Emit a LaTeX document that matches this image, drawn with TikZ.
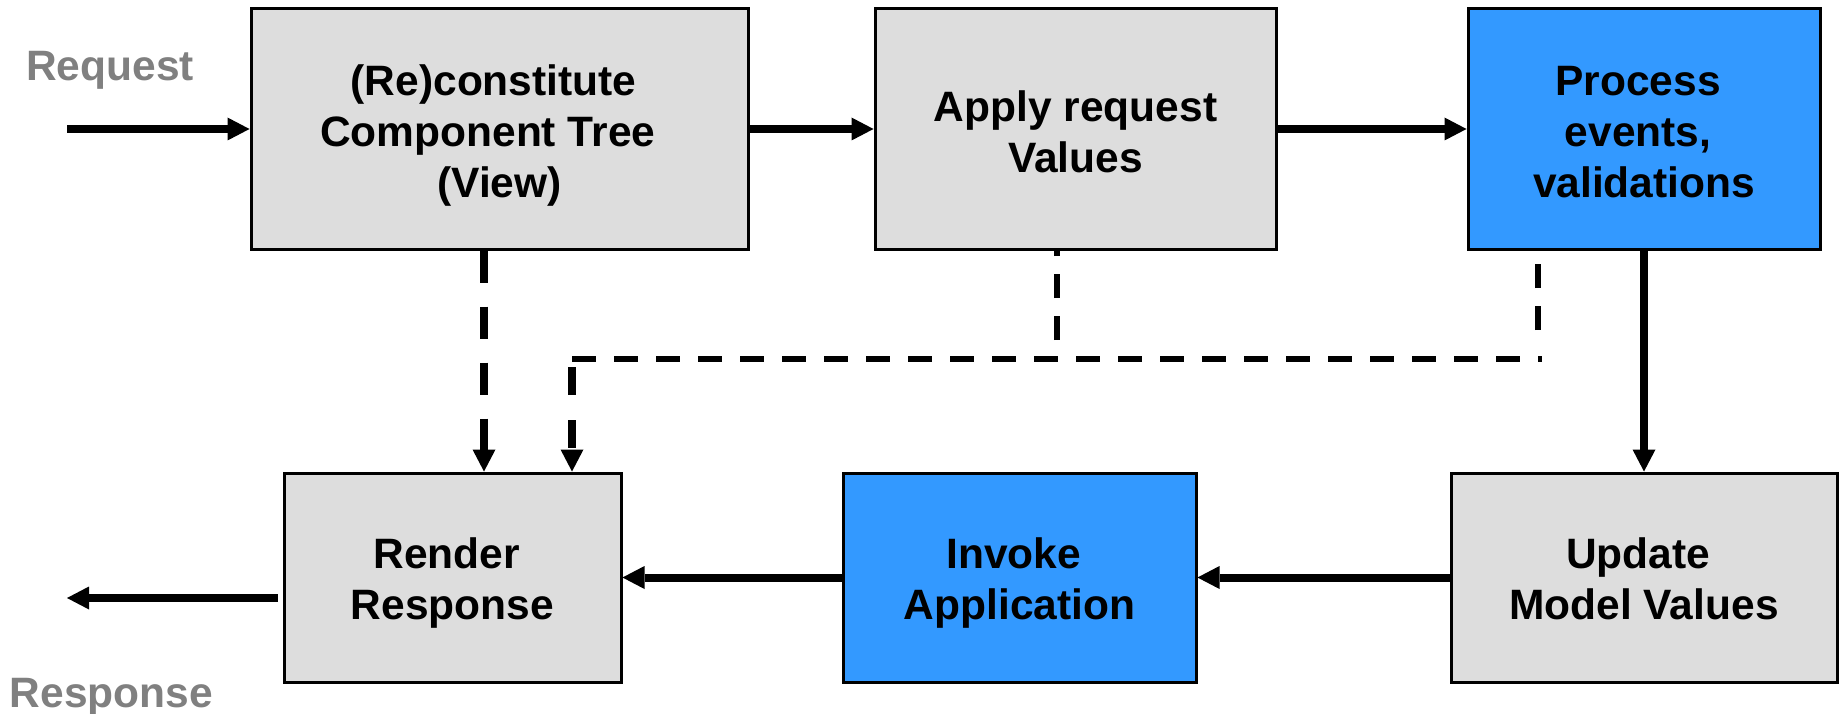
\documentclass[tikz,border=0pt]{standalone}
\usepackage{fontspec}
\setmainfont{Liberation Sans}
\usetikzlibrary{arrows.meta}
\definecolor{boxgrey}{HTML}{DDDDDD}
\definecolor{boxblue}{HTML}{3399FF}
\definecolor{labelgrey}{HTML}{808080}
\newcommand\trailsp{\hbox to 0.278em{}}
\tikzset{
  phase/.style={draw=black, line width=3pt, inner sep=0pt},
  greybox/.style={phase, fill=boxgrey},
  bluebox/.style={phase, fill=boxblue},
  boxtext/.style={align=center, inner sep=0pt, text=black,
    font=\fontsize{42.5}{51}\selectfont\bfseries},
  tipstyle/.style={-{Triangle[length=22pt,width=23pt,line width=0pt]}},
  flow/.style={line width=8pt, tipstyle},
  viewdash/.style={line width=7.5pt, dash pattern=on 32pt off 24pt, tipstyle},
  finedash/.style={line width=6.5pt, dash pattern=on 24pt off 18pt},
  joindash/.style={line width=6pt, dash pattern=on 24pt off 18pt},
  lastdash/.style={line width=7.5pt, dash pattern=on 28pt off 25pt, tipstyle},
  iolabel/.style={text=labelgrey, anchor=base, inner sep=0pt,
    font=\fontsize{42.5}{51}\selectfont\bfseries}
}
\begin{document}
\begin{tikzpicture}[x=1pt,y=-1pt]
\useasboundingbox (0,0) rectangle (1839,714);
% boxes
\node[greybox, minimum width=497pt, minimum height=240pt,
  label={[boxtext, yshift=-7pt]center:{(Re)constitute\trailsp\\Component Tree\trailsp\trailsp\\(View)}}]
  (b1) at (499.5,129) {};
\node[greybox, minimum width=401pt, minimum height=240pt,
  label={[boxtext, yshift=-2.5pt]center:{Apply request\\Values}}]
  (b2) at (1075.5,129) {};
\node[bluebox, minimum width=352pt, minimum height=240pt,
  label={[boxtext, yshift=-3pt]center:{Process\trailsp\\events,\trailsp\\validations}}]
  (b3) at (1644,129) {};
\node[greybox, minimum width=337pt, minimum height=209pt,
  label={[boxtext, yshift=-6pt]center:{Render\trailsp\\Response}}]
  (b4) at (452.5,577.5) {};
\node[bluebox, minimum width=353pt, minimum height=209pt,
  label={[boxtext, yshift=-6pt]center:{Invoke\trailsp\\Application}}]
  (b5) at (1019.5,577.5) {};
\node[greybox, minimum width=386pt, minimum height=209pt,
  label={[boxtext, yshift=-1pt]center:{Update\trailsp\\Model Values}}]
  (b6) at (1644,577.5) {};
% labels
\node[iolabel] (req) at (110,81) {Request};
\node[iolabel] (resp) at (111.5,707) {Response};
% free ends and dashed-line positions
\coordinate (in) at (67,129);
\coordinate (out) at (67,598);
\coordinate (c1) at (484,0);
\coordinate (c2end) at (1057,340);
\coordinate (c3end) at (1538,330);
\coordinate (hl) at (572,359);
\coordinate (hr) at (1542,359);
\coordinate (c4start) at (572,367);
% solid flow
\draw[flow] (in) -- (b1.west);
\draw[flow] (b1.east) -- (b2.west);
\draw[flow] (b2.east) -- (b3.west);
\draw[flow] (b3.south) -- (b6.north);
\draw[flow] (b6.west) -- (b5.east);
\draw[flow] (b5.west) -- (b4.east);
\draw[flow] ([xshift=-5pt]b4.west |- out) -- (out);
% dashed
\draw[viewdash] (b1.south -| c1) -- (b4.north -| c1);
\draw[finedash] (c2end) -- (b2.south -| c2end);
\draw[finedash] (c3end) -- (b3.south -| c3end);
\draw[joindash] (hl) -- (hr);
\draw[lastdash] (c4start) -- (b4.north -| c4start);
\end{tikzpicture}
\end{document}
